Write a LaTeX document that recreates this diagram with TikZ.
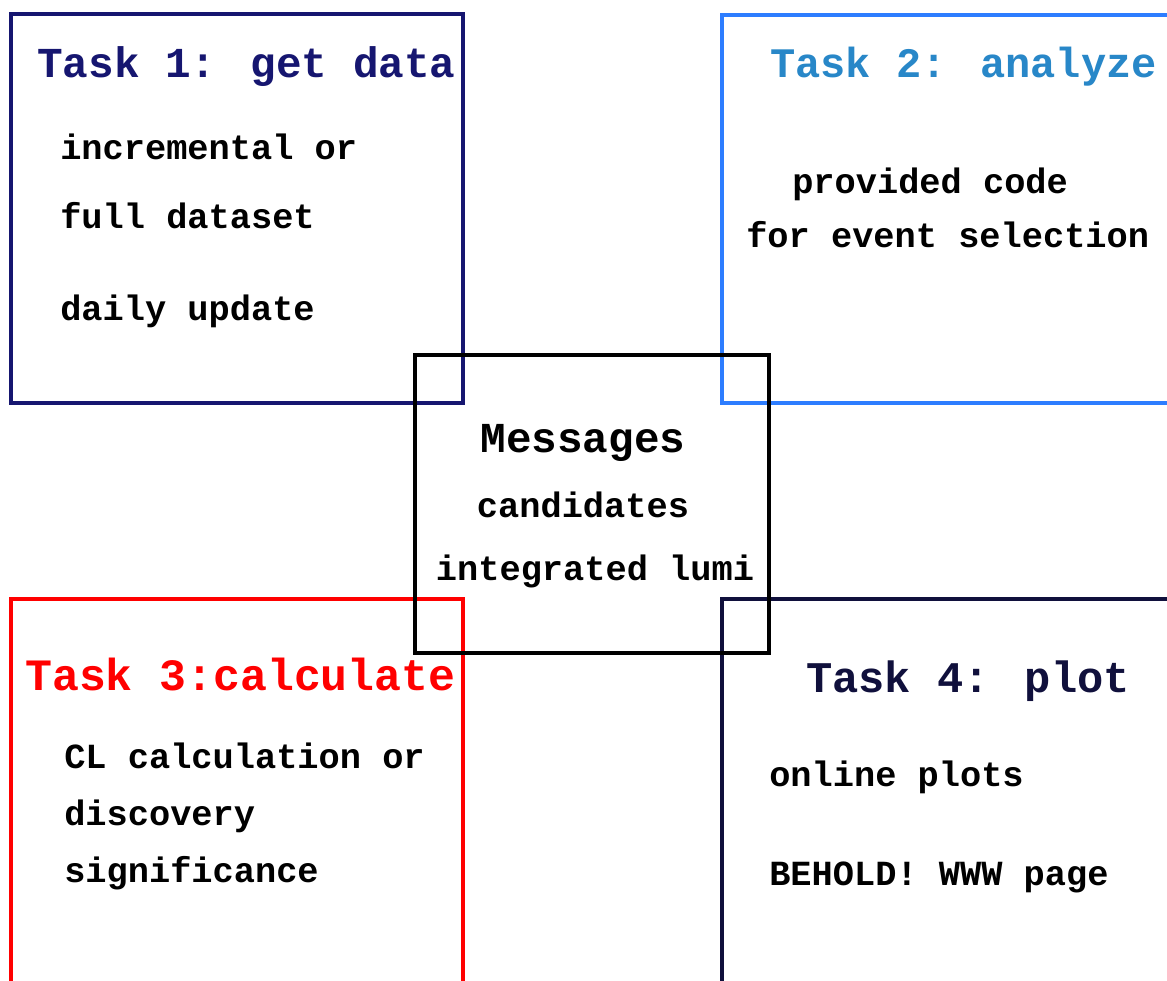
\documentclass[tikz,border=0pt]{standalone}
\usepackage{fontspec}
\setmainfont{Liberation Mono}
\definecolor{navy}{RGB}{22,22,112}
\definecolor{skyline}{RGB}{45,125,255}
\definecolor{skytext}{RGB}{40,135,200}
\definecolor{inkdark}{RGB}{16,16,60}
\tikzset{
    taskbox/.style={draw=#1, line width=3pt, rectangle, inner sep=0pt, outer sep=0pt},
    title/.style={anchor=base west, inner sep=0pt, font=\bfseries\fontsize{32}{38}\selectfont},
    body/.style={anchor=base west, inner sep=0pt, font=\bfseries\fontsize{26.5}{32}\selectfont}
}
\begin{document}
\begin{tikzpicture}[x=0.75pt, y=-0.75pt]
    \clip (0,0) rectangle (1167,981);
    \fill[white] (0,0) rectangle (1167,981);

    % Task boxes
    \node[taskbox=navy, minimum width=339pt, minimum height=291.75pt] (box1) at (237,208.5) {};
    \node[taskbox=skyline, minimum width=358.5pt, minimum height=291pt] (box2) at (961,209) {};
    \node[taskbox=red, minimum width=339pt, minimum height=315.75pt] (box3) at (237,809.5) {};
    \node[taskbox=inkdark, minimum width=358.5pt, minimum height=315.75pt] (box4) at (961,809.5) {};

    % Messages box in the middle
    \node[taskbox=black, minimum width=265.5pt, minimum height=223.5pt] (msg) at (592,504) {};

    % Task 1
    \node[title, text=navy] (t1) at (37,78) {Task 1: get data};
    \node[body] (t1a) at (60,159) {incremental or};
    \node[body] (t1b) at (60,228) {full dataset};
    \node[body] (t1c) at (60,320) {daily update};

    % Task 2
    \node[title, text=skytext, font=\bfseries\fontsize{31.5}{38}\selectfont] (t2) at (770,78) {Task 2: analyze};
    \node[body] (t2a) at (792,193) {provided code};
    \node[body] (t2b) at (746,247) {for event selection};

    % Messages
    \node[title, anchor=base] (m0) at (583,452) {Messages};
    \node[body, anchor=base] (m1) at (583,517) {candidates};
    \node[body, anchor=base] (m2) at (595,580) {integrated lumi};

    % Task 3
    \node[title, text=red, font=\bfseries\fontsize{33.6}{40}\selectfont] (t3) at (25,690) {Task 3:calculate};
    \node[body] (t3a) at (64,768) {CL calculation or};
    \node[body] (t3b) at (64,825) {discovery};
    \node[body] (t3c) at (64,882) {significance};

    % Task 4
    \node[title, text=inkdark, font=\bfseries\fontsize{32.8}{40}\selectfont] (t4) at (806,692) {Task 4: plot};
    \node[body] (t4a) at (769,786) {online plots};
    \node[body] (t4b) at (769,885) {BEHOLD! WWW page};
\end{tikzpicture}
\end{document}
